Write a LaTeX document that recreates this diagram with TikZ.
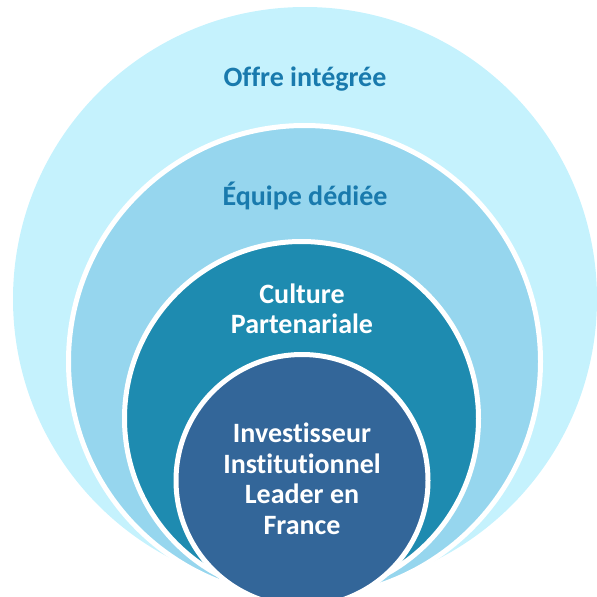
\documentclass[tikz,border=0pt]{standalone}
\usepackage{fontspec}
\setmainfont{Carlito}[Ligatures=CommonOff]
\definecolor{ringA}{RGB}{197,242,253}
\definecolor{ringB}{RGB}{150,214,238}
\definecolor{ringC}{RGB}{30,139,176}
\definecolor{ringD}{RGB}{51,102,153}
\definecolor{txtblue}{RGB}{25,122,173}
\begin{document}
\begin{tikzpicture}[x=1pt,y=-1pt,
  ring/.style={draw=white,line width=5pt},
  lbl/.style={font=\bfseries\fontsize{28}{30.5}\selectfont,align=center,inner sep=0pt}]
\useasboundingbox (0,0) rectangle (597,597);
\begin{scope}
\clip (0,0) rectangle (597,597);
\fill[ringA] (305,299) circle[radius=292];
\path[ring,fill=ringB] (304.5,361.5) circle[radius=236];
\path[ring,fill=ringC] (301.5,418.5) circle[radius=177];
\path[ring,fill=ringD] (302,480.5) circle[radius=126];
\end{scope}
\node[lbl,text=txtblue] (offre) at (305,79) {Offre intégrée};
\node[lbl,text=txtblue] (equipe) at (305,196) {Équipe dédiée};
\node[lbl,text=white] (culture) at (302,309) {Culture\\Partenariale};
\node[lbl,text=white] (invest) at (302,479) {Investisseur\\Institutionnel\\Leader en\\France};
\end{tikzpicture}
\end{document}
